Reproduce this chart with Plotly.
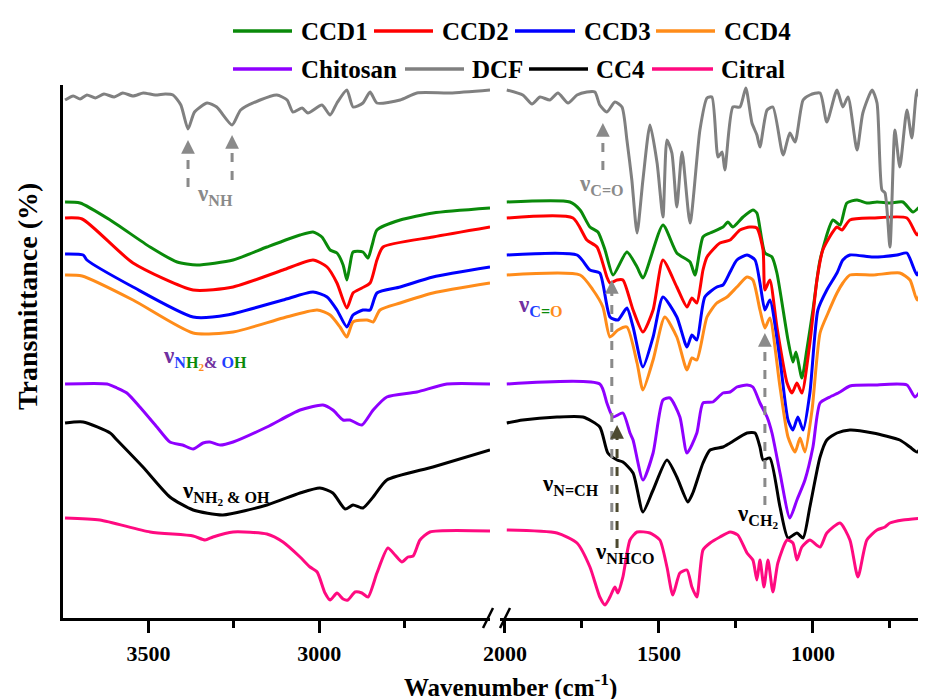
import plotly.graph_objects as go

# ---------------- data (wavenumber cm-1, offset transmittance a.u.) ----------------
wn_dcf = [3744, 3720, 3700, 3680, 3655, 3630, 3600, 3575, 3545, 3515, 3480, 3450, 3428, 3405, 3384, 3365, 3328, 3300, 3255, 3230,
          3173, 3124, 3094, 3077, 3050, 3033, 2992, 2968, 2948, 2919, 2901, 2872, 2851, 2831, 2763, 2714, 2617, 2500,
          1994, 1942, 1912, 1886, 1854, 1828, 1795, 1766, 1734, 1708, 1692, 1669, 1643, 1620, 1604, 1588, 1571, 1552, 1529,
          1506, 1487, 1474, 1458, 1442, 1425, 1399, 1367, 1344, 1328, 1308, 1295, 1286, 1260, 1237, 1218, 1198, 1182, 1172,
          1149, 1130, 1097, 1075, 1058, 1032, 1010, 977, 955, 922, 903, 886, 857, 838, 808, 792, 776, 766, 750, 734, 718,
          695, 679, 662, 643]
t_dcf = [518, 522, 519, 523, 520, 524, 521, 525, 522, 525, 523, 524, 523, 513, 489, 506, 515, 511, 493, 508,
         518, 523, 518, 506, 510, 505, 513, 503, 515, 528, 511, 515, 526, 515, 518, 525, 525, 528,
         528, 523, 514, 521, 518, 525, 515, 523, 526, 526, 513, 506, 516, 511, 478, 438, 385, 438, 493,
         455, 401, 478, 465, 411, 466, 395, 488, 520, 521, 461, 466, 448, 511, 511, 530, 495, 483, 471,
         508, 511, 463, 485, 476, 518, 523, 525, 496, 528, 511, 521, 468, 505, 528, 515, 428, 425, 371, 488, 451,
         508, 480, 528, 505]

wn_ccd1 = [3744, 3700, 3612, 3495, 3416, 3358, 3252, 3153, 3056, 3018, 2992, 2968, 2948, 2930, 2919, 2910, 2901, 2872, 2857,
           2845, 2831, 2763, 2667, 2500,
           1994, 1789, 1756, 1724, 1698, 1675, 1649, 1604, 1571, 1552, 1487, 1442, 1399, 1383, 1357, 1334, 1292, 1276, 1260,
           1227, 1195, 1182, 1156, 1133, 1117, 1081, 1065, 1055, 1036, 1020, 1000, 977, 935, 912, 890, 857, 825, 792, 750,
           708, 675, 643]
t_ccd1 = [416, 415, 398, 371, 356, 353, 358, 371, 383, 386, 381, 368, 365, 353, 338, 353, 366, 366, 360,
          373, 388, 398, 405, 410,
          416, 416, 408, 391, 386, 368, 343, 366, 351, 340, 393, 365, 356, 343, 381, 385, 391, 396, 391,
          401, 408, 405, 365, 361, 345, 278, 256, 266, 240, 268, 308, 358, 398, 393, 415, 418, 415, 416, 415,
          416, 406, 415]

wn_ccd2 = [3744, 3694, 3545, 3369, 3252, 3106, 3018, 2977, 2948, 2919, 2901, 2875, 2851, 2831, 2813, 2667, 2500,
           1994, 1779, 1734, 1701, 1669, 1659, 1636, 1617, 1584, 1552, 1519, 1487, 1442, 1409, 1393, 1377, 1357, 1344,
           1302, 1269, 1237, 1205, 1182, 1162, 1156, 1140, 1117, 1084, 1068, 1052, 1036, 1010, 987, 968, 922, 906, 880,
           805, 695, 662, 643]
t_ccd2 = [400, 399, 355, 328, 331, 348, 358, 351, 335, 310, 325, 330, 335, 358, 371, 381, 391,
          400, 400, 378, 371, 341, 335, 338, 338, 308, 286, 308, 358, 331, 311, 320, 315, 348, 361,
          375, 378, 388, 391, 390, 368, 328, 338, 291, 235, 225, 235, 225, 275, 338, 368, 391, 388, 398,
          400, 400, 383, 398]

wn_ccd3 = [3744, 3691, 3680, 3545, 3369, 3270, 3106, 3018, 2977, 2948, 2919, 2901, 2872, 2851, 2831, 2763, 2667, 2500,
           1994, 1766, 1724, 1692, 1659, 1633, 1604, 1584, 1552, 1519, 1487, 1442, 1409, 1393, 1377, 1351, 1312, 1292,
           1269, 1247, 1214, 1188, 1172, 1156, 1140, 1107, 1081, 1065, 1049, 1032, 1010, 984, 955, 922, 903, 880, 805,
           727, 695, 662, 643]
t_ccd3 = [364, 363, 358, 331, 301, 303, 318, 326, 321, 308, 291, 303, 308, 308, 325, 331, 341, 351,
          363, 363, 348, 345, 301, 298, 310, 291, 251, 281, 321, 301, 271, 283, 278, 321, 331, 333,
          346, 358, 363, 358, 335, 308, 318, 258, 198, 188, 201, 188, 225, 308, 328, 345, 358, 363, 361,
          363, 365, 343, 358]

wn_ccd4 = [3744, 3694, 3545, 3369, 3252, 3106, 3006, 2968, 2939, 2919, 2901, 2860, 2842, 2822, 2763, 2667, 2500,
           1994, 1756, 1714, 1682, 1659, 1633, 1604, 1571, 1552, 1519, 1481, 1442, 1409, 1393, 1377, 1344, 1312, 1279,
           1247, 1214, 1195, 1172, 1156, 1140, 1107, 1081, 1058, 1042, 1026, 1003, 977, 951, 922, 903, 880, 805, 718,
           685, 662, 643]
t_ccd4 = [343, 342, 318, 285, 286, 300, 308, 303, 291, 281, 296, 298, 296, 308, 315, 325, 335,
          343, 343, 328, 311, 281, 288, 291, 255, 228, 258, 301, 281, 248, 260, 258, 301, 315, 321,
          331, 341, 338, 308, 290, 300, 231, 181, 166, 180, 166, 208, 285, 305, 325, 335, 343, 343, 345,
          338, 318, 333]

wn_chi = [3744, 3621, 3592, 3563, 3525, 3475, 3437, 3400, 3369, 3340, 3320, 3290, 3252, 3153, 3056, 2989, 2960, 2930,
          2910, 2875, 2842, 2802, 2714, 2626, 2500,
          1994, 1692, 1669, 1649, 1617, 1594, 1584, 1552, 1519, 1487, 1464, 1432, 1409, 1377, 1357, 1325, 1292, 1269,
          1247, 1214, 1195, 1172, 1149, 1133, 1107, 1075, 1052, 1026, 1000, 977, 945, 912, 880, 805, 695, 669, 643]
t_chi = [234, 234, 230, 225, 211, 191, 176, 173, 169, 175, 176, 173, 176, 191, 208, 213, 208, 198,
         198, 193, 208, 221, 226, 234, 234,
         234, 234, 215, 201, 205, 185, 178, 138, 165, 218, 220, 201, 165, 185, 215, 216, 225, 226,
         231, 233, 231, 215, 201, 185, 145, 100, 118, 138, 171, 215, 221, 226, 232, 233, 233, 221, 231]

wn_cc4 = [3744, 3691, 3612, 3592, 3516, 3437, 3369, 3282, 3153, 3056, 2998, 2960, 2924, 2901, 2872, 2842, 2802, 2667, 2500,
          1994, 1942, 1831, 1747, 1692, 1666, 1636, 1617, 1584, 1552, 1519, 1474, 1442, 1406, 1390, 1357, 1334, 1292,
          1269, 1214, 1188, 1172, 1162, 1140, 1107, 1081, 1052, 1032, 1010, 977, 955, 922, 880, 805, 718, 685, 662, 643]
t_cc4 = [195, 196, 185, 178, 151, 121, 108, 103, 113, 125, 130, 125, 109, 113, 110, 121, 138, 151, 168,
         195, 198, 201, 201, 191, 165, 158, 156, 145, 106, 128, 158, 141, 116, 125, 155, 168, 171,
         175, 185, 185, 171, 158, 160, 111, 80, 85, 80, 111, 161, 178, 185, 188, 185, 178, 171, 166, 175]

wn_cit = [3744, 3642, 3495, 3369, 3334, 3311, 3252, 3153, 3106, 3056, 3027, 3006, 2983, 2968, 2948, 2930, 2916, 2895,
          2875, 2857, 2831, 2799, 2778, 2758, 2740, 2725, 2705, 2676, 2500,
          1994, 1831, 1766, 1724, 1692, 1675, 1659, 1643, 1633, 1617, 1594, 1571, 1529, 1497, 1474, 1455, 1432, 1409,
          1393, 1377, 1357, 1334, 1302, 1269, 1244, 1214, 1195, 1182, 1172, 1159, 1146, 1130, 1114, 1084, 1065, 1052,
          1036, 1010, 977, 955, 912, 880, 854, 825, 792, 766, 750, 708, 643]
t_cit = [100, 98, 86, 82, 78, 81, 86, 84, 76, 61, 51, 46, 25, 18, 25, 19, 18, 26,
         25, 21, 45, 70, 63, 56, 61, 62, 78, 86, 87,
         88, 85, 75, 51, 21, 13, 21, 31, 25, 41, 78, 86, 85, 78, 51, 23, 45, 48,
         31, 21, 68, 75, 81, 86, 83, 65, 58, 38, 58, 31, 58, 26, 55, 78, 75, 58,
         71, 78, 71, 85, 95, 78, 41, 78, 88, 91, 95, 98, 100]

legend_row1 = ["CCD1", "CCD2", "CCD3", "CCD4"]
legend_row2 = ["Chitosan", "DCF", "CC4", "Citral"]

series = [
    ("CCD1", wn_ccd1, t_ccd1, "#0a8a0a"),
    ("CCD2", wn_ccd2, t_ccd2, "#ff0000"),
    ("CCD3", wn_ccd3, t_ccd3, "#0000ff"),
    ("CCD4", wn_ccd4, t_ccd4, "#ff8c1a"),
    ("Chitosan", wn_chi, t_chi, "#8f00ff"),
    ("DCF", wn_dcf, t_dcf, "#808080"),
    ("CC4", wn_cc4, t_cc4, "#000000"),
    ("Citral", wn_cit, t_cit, "#ff0a80"),
]
colors = {s[0]: s[3] for s in series}

BREAK = 2250
FONT = "Liberation Serif, Times New Roman, serif"

# The page body has an 8 px margin; the figure is sized so that it fills the window exactly.
OFF = 8
W, H = 926 - OFF, 699 - OFF
# plot area in window pixels: x 63..926, y 85..618
L, T, R, B = 63 - OFF, 85 - OFF, 0, H - (618 - OFF)
PW, PH = W - L - R, H - T - B


def px(xwin):
    return (xwin - 63) / PW


def py(ywin):
    return (618 - ywin) / PH


fig = go.Figure()
for name, wn, t, col in series:
    hi = [(w, v) for w, v in zip(wn, t) if w >= BREAK]
    lo = [(w, v) for w, v in zip(wn, t) if w < BREAK]
    for pts, xa in ((hi, "x"), (lo, "x2")):
        fig.add_trace(go.Scatter(x=[p[0] for p in pts], y=[p[1] for p in pts], mode="lines", name=name,
                                 line=dict(color=col, width=3, shape="spline", smoothing=0.6),
                                 xaxis=xa, yaxis="y", showlegend=False))

axis_common = dict(showgrid=False, zeroline=False, showline=True, linecolor="black", linewidth=2.5,
                   ticks="outside", ticklen=12, tickwidth=2.5, tickcolor="black", ticklabelstandoff=2,
                   tickfont=dict(family=FONT, size=22, color="black", weight="bold"))

fig.update_layout(
    width=W, height=H,
    margin=dict(l=L, r=R, t=T, b=B, autoexpand=False),
    paper_bgcolor="white", plot_bgcolor="white",
    xaxis=dict(domain=[0, px(490)], range=[3750, 2500], tickmode="array", tickvals=[3500, 3000],
               minor=dict(tickmode="array", tickvals=[3250, 2750], ticks="outside", ticklen=7,
                          tickwidth=2.5, tickcolor="black"),
               anchor="y", **axis_common),
    xaxis2=dict(domain=[px(500), 1.0], range=[2016, 633], tickmode="array", tickvals=[2000, 1500, 1000],
                minor=dict(tickmode="array", tickvals=[1750, 1250, 750], ticks="outside", ticklen=7,
                           tickwidth=2.5, tickcolor="black"),
                anchor="y", **axis_common),
    yaxis=dict(range=[0, 533], showgrid=False, zeroline=False, showline=True, linecolor="black",
               linewidth=2.5, ticks="", showticklabels=False, anchor="x"),
    showlegend=False,
)

# custom two-row legend (long line samples as in the original)
legend_layout = [
    (legend_row1, 31, [(233, 292, 299), (374, 433, 440), (515, 575, 582), (656, 715, 722)]),
    (legend_row2, 69, [(233, 292, 299), (405, 464, 470), (529, 588, 594), (652, 713, 719)]),
]
for names, yrow, slots in legend_layout:
    for nm, (x0, x1, xt) in zip(names, slots):
        fig.add_shape(type="line", xref="paper", yref="paper", x0=px(x0), x1=px(x1), y0=py(yrow), y1=py(yrow),
                      line=dict(color=colors[nm], width=3.5))
        fig.add_annotation(text=nm, xref="paper", yref="paper", x=px(xt), y=py(yrow), showarrow=False,
                           xanchor="left", yanchor="middle",
                           font=dict(family=FONT, size=25, color="black", weight="bold"))

# axis titles
fig.add_annotation(text="Wavenumber (cm<sup>-1</sup>)", xref="paper", yref="paper", x=px(510), y=py(685),
                   showarrow=False, font=dict(family=FONT, size=25, color="black", weight="bold"),
                   xanchor="center", yanchor="middle")
fig.add_annotation(text="Transmittance (%)", xref="paper", yref="paper", x=px(27), y=py(297),
                   showarrow=False, textangle=-90, font=dict(family=FONT, size=28, color="black", weight="bold"),
                   xanchor="center", yanchor="middle")

# axis break marks
for x0, x1 in [(483, 493), (500, 510)]:
    fig.add_shape(type="line", xref="paper", yref="paper", x0=px(x0), y0=py(628), x1=px(x1), y1=py(608),
                  line=dict(color="black", width=2.5))

# peak labels
PUR, BLU, GRN, ORG = "#7030a0", "#1f3fff", "#0a8a0a", "#ff8c1a"
labels = [
    ("ν<sub>NH</sub>", "x", 3305, 423, "#8a8a8a"),
    ("ν<sub>C=O</sub>", "x2", 1688, 433, "#8a8a8a"),
    (f"<span style='color:{PUR}'>ν</span><sub><span style='color:{BLU}'>N</span>"
     f"<span style='color:{GRN}'>H</span><sub><span style='color:{ORG}'>2</span></sub>"
     f"<span style='color:{PUR}'>&amp;</span> <span style='color:{BLU}'>O</span>"
     f"<span style='color:{GRN}'>H</span></sub>", "x", 3334, 260, PUR),
    (f"<span style='color:{PUR}'>ν</span><sub><span style='color:{BLU}'>C</span>"
     f"<span style='color:{GRN}'>=</span><span style='color:{ORG}'>O</span></sub>", "x2", 1883, 312, PUR),
    ("ν<sub>NH<sub>2</sub> &amp; OH</sub>", "x", 3273, 125, "black"),
    ("ν<sub>N=CH</sub>", "x2", 1786, 133, "black"),
    ("ν<sub>NHCO</sub>", "x2", 1610, 65, "black"),
    ("ν<sub>CH<sub>2</sub></sub>", "x2", 1179, 102, "black"),
]
for txt, xr, xv, yv, col in labels:
    fig.add_annotation(text=txt, xref=xr, yref="y", x=xv, y=yv, showarrow=False,
                       font=dict(family=FONT, size=23, color=col, weight="bold"),
                       xanchor="center", yanchor="middle")

# dashed arrows (tail -> tip)
arrows = [
    ("x", 3384, 431, 478, "#8a8a8a"),
    ("x", 3255, 438, 483, "#8a8a8a"),
    ("x2", 1682, 448, 495, "#8a8a8a"),
    ("x2", 1653, 88, 338, "#8a8a8a"),
    ("x2", 1636, 70, 193, "#4d4a30"),
    ("x2", 1156, 113, 285, "#8a8a8a"),
]
for xr, xv, y0, y1, col in arrows:
    fig.add_shape(type="line", xref=xr, yref="y", x0=xv, x1=xv, y0=y0, y1=y1 - 8,
                  line=dict(color=col, width=3, dash="dash"))
    fig.add_annotation(text="", xref=xr, yref="y", x=xv, y=y1, ax=0, ay=10, showarrow=True,
                       arrowhead=2, arrowsize=1.1, arrowwidth=2.5, arrowcolor=col)

fig.write_html("out.html")
